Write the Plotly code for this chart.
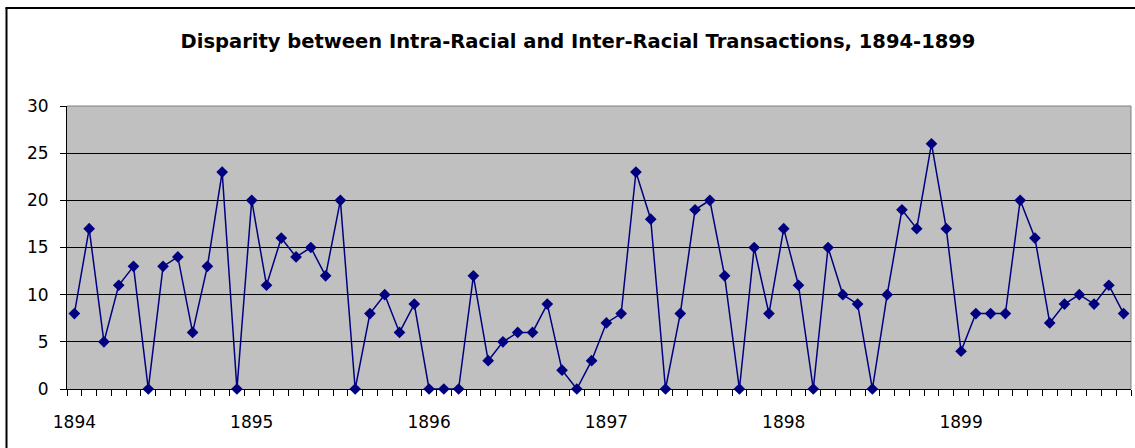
import plotly.graph_objects as go

# Monthly disparity values, Jan 1894 - Dec 1899
values = [
    8, 17, 5, 11, 13, 0, 13, 14, 6, 13, 23, 0,      # 1894
    20, 11, 16, 14, 15, 12, 20, 0, 8, 10, 6, 9,     # 1895
    0, 0, 0, 12, 3, 5, 6, 6, 9, 2, 0, 3,            # 1896
    7, 8, 23, 18, 0, 8, 19, 20, 12, 0, 15, 8,       # 1897
    17, 11, 0, 15, 10, 9, 0, 10, 19, 17, 26, 17,    # 1898
    4, 8, 8, 8, 20, 16, 7, 9, 10, 9, 11, 8,         # 1899
]
years = ["1894", "1895", "1896", "1897", "1898", "1899"]
months_per_year = 12

x = list(range(len(values)))
year_pos = [i * months_per_year for i in range(len(years))]
boundaries = [i - 0.5 for i in range(len(values) + 1)]

W, H = 1135, 448
ML, MR, MT, MB = 67, 4, 106, 59
pw, ph = W - ML - MR, H - MT - MB

def px_to_paper_x(px):
    return (px - ML) / pw

def py_to_paper_y(py):
    return (H - MB - py) / ph

fig = go.Figure()
fig.add_trace(go.Scatter(
    x=x, y=values, mode="lines+markers",
    line=dict(color="#000080", width=1.5),
    marker=dict(symbol="diamond", size=9, color="#000080"),
    cliponaxis=False, showlegend=False,
))

font_family = "DejaVu Sans, Arial, sans-serif"

fig.update_layout(
    width=W, height=H,
    margin=dict(l=ML, r=MR, t=MT, b=MB),
    paper_bgcolor="white",
    plot_bgcolor="#C0C0C0",
    title=dict(
        text="<b>Disparity between Intra-Racial and Inter-Racial Transactions, 1894-1899</b>",
        x=578 / W, xanchor="center", xref="container",
        y=1 - 41 / H, yanchor="middle", yref="container",
        font=dict(family=font_family, size=19.5, color="black"),
    ),
    xaxis=dict(
        range=[-0.5, len(values) - 0.5],
        tickmode="array", tickvals=year_pos, ticktext=years,
        ticks="", showgrid=False, zeroline=False,
        showline=True, linecolor="black", linewidth=1,
        tickfont=dict(family=font_family, size=17, color="black"),
        ticklabelstandoff=18,
        minor=dict(tickmode="array", tickvals=boundaries, ticks="outside",
                   ticklen=6, tickcolor="black", tickwidth=1, showgrid=False),
    ),
    yaxis=dict(
        range=[0, 30], tickmode="linear", tick0=0, dtick=5,
        ticks="outside", ticklen=6, tickcolor="black",
        showgrid=True, gridcolor="black", gridwidth=1,
        zeroline=False, showline=True, linecolor="black", linewidth=1,
        tickfont=dict(family=font_family, size=17, color="black"),
        ticklabelstandoff=8,
    ),
    shapes=[
        # plot-area border (top and right) in grey
        dict(type="line", xref="paper", yref="paper", x0=0, x1=1, y0=1, y1=1,
             line=dict(color="#808080", width=1), layer="between"),
        dict(type="line", xref="paper", yref="paper", x0=1, x1=1, y0=0, y1=1,
             line=dict(color="#808080", width=1), layer="between"),
        # chart-area frame (left and top)
        dict(type="line", xref="paper", yref="paper",
             x0=px_to_paper_x(6.5), x1=px_to_paper_x(6.5),
             y0=py_to_paper_y(7.5), y1=py_to_paper_y(460),
             line=dict(color="black", width=2), layer="above"),
        dict(type="line", xref="paper", yref="paper",
             x0=px_to_paper_x(5.5), x1=px_to_paper_x(1140),
             y0=py_to_paper_y(8), y1=py_to_paper_y(8),
             line=dict(color="black", width=2), layer="above"),
    ],
)

fig.write_html(
    "out.html",
    config={"displayModeBar": False},
    post_script="document.body.style.margin='0';document.body.style.overflow='hidden';",
)
